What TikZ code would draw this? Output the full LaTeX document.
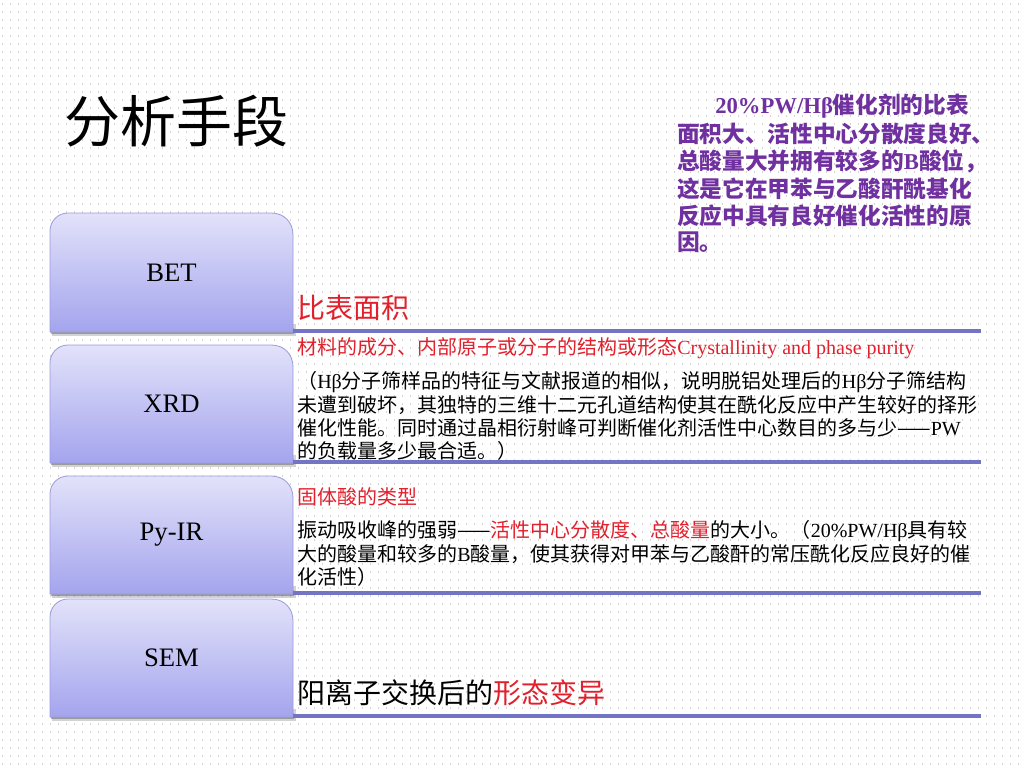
\documentclass[tikz,border=0pt]{standalone}
\usepackage{fontspec}
\setmainfont{Noto Sans CJK SC}
\newfontfamily\lat{Liberation Serif}
\definecolor{boxtop}{HTML}{E2E2FA}
\definecolor{boxbot}{HTML}{A4A4EE}
\definecolor{boxedge}{HTML}{9A9ADC}
\definecolor{linec}{HTML}{7474C4}
\definecolor{redc}{HTML}{E2202C}
\definecolor{purc}{HTML}{7030A0}
\definecolor{dotc}{HTML}{D4D4D4}
\tikzset{
  boxlabel/.style={font=\lat\fontsize{20pt}{24pt}\selectfont, text=black, inner sep=0pt},
  sepline/.style={draw=linec, line width=3pt},
  bodytext/.style={anchor=west, inner sep=0pt, font=\fontsize{15pt}{18pt}\selectfont, text=black},
  bigtext/.style={anchor=west, inner sep=0pt, font=\fontsize{21pt}{24pt}\selectfont, text=black},
  purtext/.style={anchor=west, inner sep=0pt, font=\bfseries\fontsize{17pt}{20pt}\selectfont, text=purc},
}
\newcommand\techbox[4]{%
  \fill[black!50, opacity=0.35] (52,#3-8) rectangle (296,#3+4);
  \fill[black!60, opacity=0.5] (51,#3-4) rectangle (294,#3+2);
  \shade[top color=boxtop, bottom color=boxbot, draw=boxedge, line width=0.6pt]
    (50,#3) -- (50,#2+18) .. controls (50,#2+8) and (58,#2) .. (68,#2) -- (271,#2)
    .. controls (284,#2) and (293,#2+9) .. (293,#2+22) -- (293,#3) -- cycle;
  \node[boxlabel] (#1) at (171.5,{(#2+#3)/2}) {#4};
}
\begin{document}
\begin{tikzpicture}[x=0.75pt,y=-0.75pt]
\useasboundingbox (0,0) rectangle (1024,768);
\fill[white] (0,0) rectangle (1024,768);
\foreach \yy in {4,12,...,764}
  \draw[dotc, line width=0.9pt, dash pattern=on 0.9pt off 5.1pt] (2,\yy) -- (1024,\yy);

% title
\node[anchor=west, inner sep=0pt, font=\fontsize{42pt}{48pt}\selectfont] (title) at (64,121) {分析手段};

% right paragraph
\node[purtext] (p1) at (715,106) {{\lat\bfseries 20\%PW/Hβ}催化剂的比表};
\node[purtext] (p2) at (677,134) {面积大、活性中心分散度良好、};
\node[purtext] (p3) at (677,161) {总酸量大并拥有较多的{\lat\bfseries B}酸位，};
\node[purtext] (p4) at (677,189) {这是它在甲苯与乙酸酐酰基化};
\node[purtext] (p5) at (677,216) {反应中具有良好催化活性的原};
\node[purtext] (p6) at (677,242) {因。};

% boxes
\techbox{bet}{213}{332}{BET}
\techbox{xrd}{345}{463}{XRD}
\techbox{pyir}{476}{594}{Py-IR}
\techbox{sem}{599}{717}{SEM}

% separator lines
\draw[sepline] (293,331) -- (981,331);
\draw[sepline] (293,462) -- (981,462);
\draw[sepline] (293,593) -- (981,593);
\draw[sepline] (293,716) -- (981,716);

% BET
\node[bigtext, text=redc] (bett) at (297,308) {比表面积};

% XRD
\node[bodytext, text=redc] (x0) at (297,348) {材料的成分、内部原子或分子的结构或形态{\lat Crystallinity and phase purity}};
\node[bodytext] (x1) at (297,382) {（{\lat Hβ}分子筛样品的特征与文献报道的相似，说明脱铝处理后的{\lat Hβ}分子筛结构};
\node[bodytext] (x2) at (297,405) {未遭到破坏，其独特的三维十二元孔道结构使其在酰化反应中产生较好的择形};
\node[bodytext] (x3) at (297,428) {催化性能。同时通过晶相衍射峰可判断催化剂活性中心数目的多与少——{\lat PW}};
\node[bodytext] (x4) at (297,451) {的负载量多少最合适。）};

% Py-IR
\node[bodytext, text=redc] (y0) at (297,497) {固体酸的类型};
\node[bodytext] (y1) at (297,531) {振动吸收峰的强弱——{\color{redc}活性中心分散度、总酸量}的大小。（{\lat 20\%PW/Hβ}具有较};
\node[bodytext] (y2) at (297,554) {大的酸量和较多的{\lat B}酸量，使其获得对甲苯与乙酸酐的常压酰化反应良好的催};
\node[bodytext] (y3) at (297,577) {化活性）};

% SEM
\node[bigtext] (semt) at (297,693) {阳离子交换后的{\color{redc}形态变异}};
\end{tikzpicture}
\end{document}
